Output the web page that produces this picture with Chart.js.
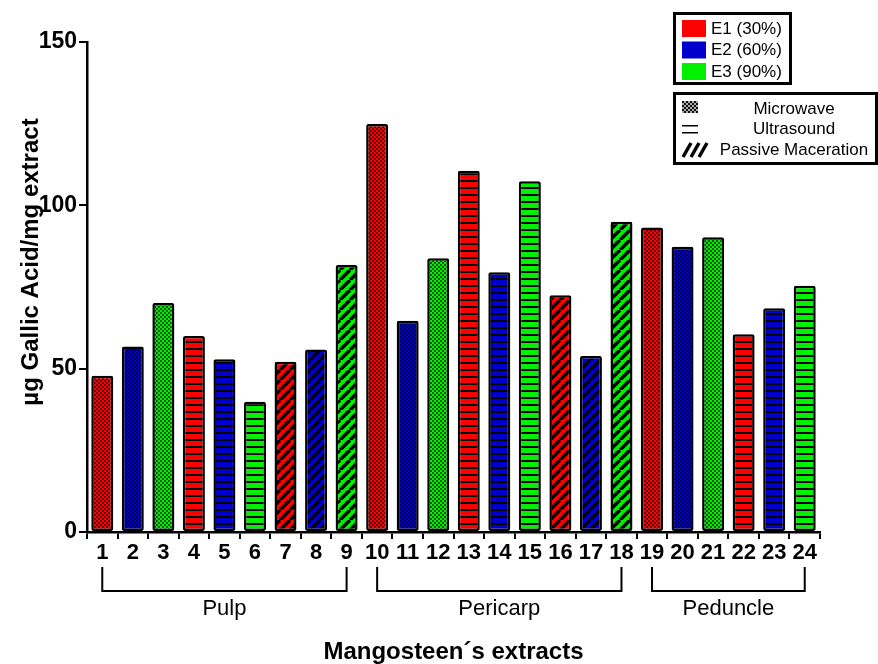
<!DOCTYPE html>
<html>
<head>
<meta charset="utf-8">
<script src="https://cdn.jsdelivr.net/npm/chart.js@4.4.1/dist/chart.umd.min.js"></script>
<style>
html,body{margin:0;padding:0;background:#fff;}
#wrap{width:878px;height:664px;position:relative;}
</style>
</head>
<body>
<div id="wrap"><canvas id="c" width="878" height="664"></canvas></div>
<script>
// ---- data ----
const categories = ['1','2','3','4','5','6','7','8','9','10','11','12','13','14','15','16','17','18','19','20','21','22','23','24'];
const values = [47.8, 56.8, 70.1, 60.0, 52.9, 39.9, 52.1, 55.9, 81.7, 124.9, 64.7, 83.8, 110.6, 79.5, 107.4, 72.5, 53.9, 95.0, 93.2, 87.3, 90.2, 60.5, 68.5, 75.4];
const solvent = ['E1','E2','E3','E1','E2','E3','E1','E2','E3','E1','E2','E3','E1','E2','E3','E1','E2','E3','E1','E2','E3','E1','E2','E3'];
const method = ['MW','MW','MW','US','US','US','PM','PM','PM','MW','MW','MW','US','US','US','PM','PM','PM','MW','MW','MW','US','US','US'];
const groups = [
  {label:'Pulp', from:0, to:8},
  {label:'Pericarp', from:9, to:17},
  {label:'Peduncle', from:18, to:23}
];
const solventLegend = [['E1','E1 (30%)'],['E2','E2 (60%)'],['E3','E3 (90%)']];
const methodLegend = [['MW','Microwave'],['US','Ultrasound'],['PM','Passive Maceration']];
const yTicks = [0, 50, 100, 150];

// ---- styles ----
const solventColor = {E1:'#ff0000', E2:'#0000cc', E3:'#00f000'};
const SANS = '"Liberation Sans", Arial, sans-serif';

function makePattern(color, kind){
  const cv = document.createElement('canvas');
  const ctx = cv.getContext('2d');
  if(kind === 'MW'){
    cv.width = 4; cv.height = 4;
    ctx.fillStyle = color; ctx.fillRect(0,0,4,4);
    ctx.fillStyle = 'rgba(0,0,0,0.62)';
    ctx.fillRect(0,0,2,2); ctx.fillRect(2,2,2,2);
  } else if(kind === 'US'){
    cv.width = 8; cv.height = 7;
    ctx.fillStyle = color; ctx.fillRect(0,0,8,7);
    ctx.fillStyle = '#000'; ctx.fillRect(0,5,8,2);
  } else {
    const s = 10;
    cv.width = s; cv.height = s;
    ctx.fillStyle = color; ctx.fillRect(0,0,s,s);
    ctx.strokeStyle = '#000'; ctx.lineWidth = 3.6;
    for(const x0 of [-s,0,s]){
      ctx.beginPath(); ctx.moveTo(x0, s); ctx.lineTo(x0+s, 0); ctx.stroke();
    }
  }
  return document.createElement('canvas').getContext('2d').createPattern(cv,'repeat');
}
const fills = values.map((v,i)=>makePattern(solventColor[solvent[i]], method[i]));

const extras = {
  id:'extras',
  afterDraw(chart){
    const ctx = chart.ctx;
    const xs = chart.scales.x;
    ctx.save();
    // y title
    ctx.save();
    ctx.translate(31, 262);
    ctx.rotate(-Math.PI/2);
    ctx.font = 'bold 24px ' + SANS;
    ctx.fillStyle = '#000'; ctx.textAlign='center'; ctx.textBaseline='middle';
    ctx.fillText('µg Gallic Acid/mg extract', 0, 0);
    ctx.restore();
    // brackets
    ctx.strokeStyle = '#000'; ctx.lineWidth = 2;
    ctx.font = '22px ' + SANS; ctx.fillStyle = '#000';
    ctx.textAlign = 'center'; ctx.textBaseline = 'middle';
    groups.forEach(g=>{
      const x1 = xs.getPixelForValue(g.from), x2 = xs.getPixelForValue(g.to);
      ctx.beginPath();
      ctx.moveTo(x1, 567); ctx.lineTo(x1, 591); ctx.lineTo(x2, 591); ctx.lineTo(x2, 567);
      ctx.stroke();
      ctx.fillText(g.label, (x1+x2)/2, 609);
    });
    // legend 1
    ctx.lineWidth = 3;
    ctx.strokeRect(674.5, 13.5, 116, 70);
    ctx.font = '17px ' + SANS; ctx.textAlign='left';
    solventLegend.forEach((e,i)=>{
      const cy = 28 + i*21.5;
      ctx.fillStyle = solventColor[e[0]];
      ctx.fillRect(682, cy-8, 24, 17);
      ctx.fillStyle = '#000';
      ctx.fillText(e[1], 711, cy+1);
    });
    // legend 2
    ctx.strokeRect(674.5, 93.5, 202, 70);
    ctx.textAlign = 'center';
    methodLegend.forEach((e,i)=>{
      const cy = 108 + i*20.5;
      ctx.fillStyle = '#000';
      ctx.fillText(e[1], 794, cy+1);
    });
    // icons
    for(let r=0;r<6;r++)for(let c=0;c<8;c++){
      ctx.fillStyle = ((r+c)%2===0)?'#111':'#aaa';
      ctx.fillRect(682+c*2, 101+r*2, 2, 2);
    }
    ctx.fillStyle='#000';
    ctx.fillRect(682,125,16,1.5); ctx.fillRect(682,132,16,1.5);
    ctx.lineWidth = 3.5; ctx.lineCap='butt';
    for(let k=0;k<3;k++){
      ctx.beginPath(); ctx.moveTo(683+k*8, 157); ctx.lineTo(691+k*8, 143); ctx.stroke();
    }
    ctx.restore();
  }
};

new Chart(document.getElementById('c'), {
  type:'bar',
  data:{
    labels: categories,
    datasets:[{
      data: values,
      backgroundColor: fills,
      borderColor:'#000',
      borderWidth:2.5,
      borderRadius:2,
      borderSkipped:false,
      barPercentage:0.72,
      categoryPercentage:1.0
    }]
  },
  options:{
    responsive:false,
    animation:false,
    devicePixelRatio:1,
    layout:{padding:{left:0,right:58,top:42,bottom:0}},
    plugins:{legend:{display:false}, tooltip:{enabled:false}},
    scales:{
      x:{
        grid:{drawOnChartArea:false, drawTicks:true, tickLength:7, color:'#000', lineWidth:2},
        border:{color:'#000', width:2.5},
        ticks:{color:'#000', font:{family:SANS, size:22, weight:'bold'}, padding:1, maxRotation:0, autoSkip:false},
        title:{display:true, text:'Mangosteen´s extracts', color:'#000', font:{family:SANS, size:24, weight:'bold', lineHeight:1}, padding:{top:0,bottom:0}},
        afterFit(s){ s.height = 132; }
      },
      y:{
        min:0, max:150,
        afterBuildTicks(s){ s.ticks = yTicks.map(v=>({value:v})); },
        grid:{drawOnChartArea:false, drawTicks:true, tickLength:8, color:'#000', lineWidth:2},
        border:{color:'#000', width:2.5},
        ticks:{color:'#000', font:{family:SANS, size:23, weight:'bold'}, padding:2},
        afterFit(s){ s.width = 87; }
      }
    }
  },
  plugins:[extras]
});
</script>
</body>
</html>
